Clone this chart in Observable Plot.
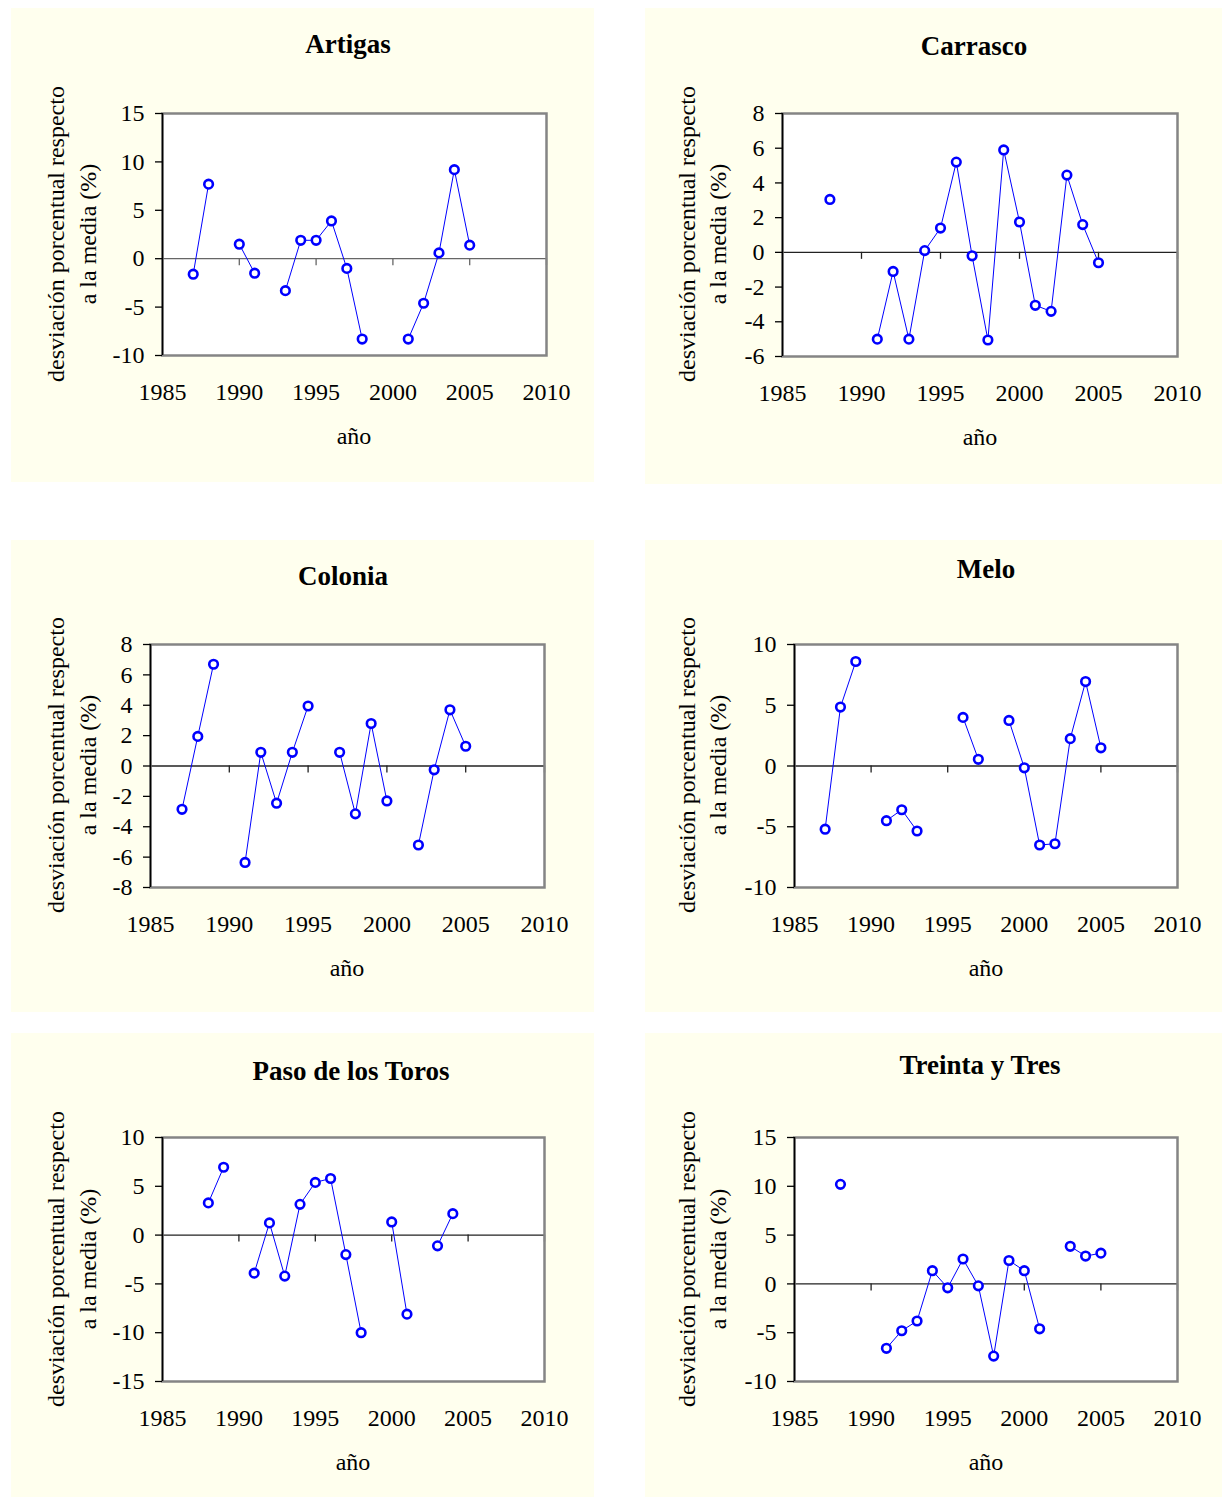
<!DOCTYPE html>
<html>
<head>
<meta charset="utf-8">
<script src="https://cdn.jsdelivr.net/npm/d3@7"></script>
<script src="https://cdn.jsdelivr.net/npm/@observablehq/plot@0.6"></script>
<style>
  html, body { margin: 0; padding: 0; background: #ffffff; }
  #page { position: relative; width: 1226px; height: 1499px; font-family: "Liberation Serif", "Times New Roman", serif; color: #000; }
  .panel { position: absolute; background: #FFFFEE; }
  .panel svg { position: absolute; left: 0; top: 0; }
  .txt { position: absolute; white-space: nowrap; transform: translate(-50%, -50%); line-height: 1; }
  .title { font-weight: bold; font-size: 27px; }
  .xlab { font-size: 24px; }
  .ylab { font-size: 24px; transform: translate(-50%, -50%) rotate(-90deg); }
</style>
</head>
<body>
<div id="page"></div>
<script>
// ---- data ----
const years = [1987, 1988, 1989, 1990, 1991, 1992, 1993, 1994, 1995, 1996, 1997, 1998, 1999, 2000, 2001, 2002, 2003, 2004, 2005];

const artigas = [-1.6, 7.7, null, 1.5, -1.5, null, -3.3, 1.9, 1.9, 3.9, -1.0, -8.3, null, null, -8.3, -4.6, 0.6, 9.2, 1.4];
const carrasco = [null, 3.05, null, null, -5.0, -1.1, -5.0, 0.1, 1.4, 5.2, -0.2, -5.05, 5.9, 1.75, -3.05, -3.4, 4.45, 1.6, -0.6];
const colonia = [-2.85, 1.95, 6.7, null, -6.35, 0.9, -2.45, 0.9, 3.95, null, 0.9, -3.15, 2.8, -2.3, null, -5.2, -0.25, 3.7, 1.3];
const melo = [-5.2, 4.85, 8.6, null, -4.5, -3.6, -5.35, null, null, 4.0, 0.55, null, 3.75, -0.15, -6.5, -6.4, 2.25, 6.95, 1.5];
const pasoDeLosToros = [null, 3.3, 6.95, null, -3.9, 1.25, -4.2, 3.15, 5.4, 5.8, -2.0, -10.0, null, 1.35, -8.1, null, -1.1, 2.2, null];
const treintaYTres = [null, 10.2, null, null, -6.6, -4.8, -3.8, 1.35, -0.4, 2.55, -0.2, -7.4, 2.4, 1.35, -4.6, null, 3.85, 2.85, 3.15];

const titles = ["Artigas", "Carrasco", "Colonia", "Melo", "Paso de los Toros", "Treinta y Tres"];
const xTicks = [1985, 1990, 1995, 2000, 2005, 2010];
const yTicksArtigas = [-10, -5, 0, 5, 10, 15];
const yTicksCarrasco = [-6, -4, -2, 0, 2, 4, 6, 8];
const yTicksColonia = [-8, -6, -4, -2, 0, 2, 4, 6, 8];
const yTicksMelo = [-10, -5, 0, 5, 10];
const yTicksPaso = [-15, -10, -5, 0, 5, 10];
const yTicksTreinta = [-10, -5, 0, 5, 10, 15];
const xTitle = "año";
const yTitle1 = "desviación porcentual respecto";
const yTitle2 = "a la media (%)";

// ---- layout (panel box, plot frame box, text positions) ----
const panels = [
  {values: artigas, ticks: yTicksArtigas, box: [11, 8, 594, 482], frame: [162, 113, 546, 355], title: [348, 44], xlab: [354, 436], ylab: [56, 88, 234], zero: "#666"},
  {values: carrasco, ticks: yTicksCarrasco, box: [645, 8, 1222, 484], frame: [782, 113, 1177, 356], title: [974, 46], xlab: [980, 437], ylab: [687, 718, 234], zero: "#222"},
  {values: colonia, ticks: yTicksColonia, box: [11, 540, 594, 1012], frame: [150, 644, 544, 887], title: [343, 576], xlab: [347, 968], ylab: [56, 88, 765], zero: "#222"},
  {values: melo, ticks: yTicksMelo, box: [645, 540, 1222, 1012], frame: [794, 644, 1177, 887], title: [986, 569], xlab: [986, 968], ylab: [687, 718, 765], zero: "#222"},
  {values: pasoDeLosToros, ticks: yTicksPaso, box: [11, 1033, 594, 1497], frame: [162, 1137, 544, 1381], title: [351, 1071], xlab: [353, 1462], ylab: [56, 88, 1259], zero: "#222"},
  {values: treintaYTres, ticks: yTicksTreinta, box: [645, 1033, 1222, 1497], frame: [794, 1137, 1177, 1381], title: [980, 1065], xlab: [986, 1462], ylab: [687, 718, 1259], zero: "#222"}
];

const page = document.getElementById("page");
const fmt = d => String(d);

function addText(cls, text, x, y) {
  const d = document.createElement("div");
  d.className = "txt " + cls;
  d.textContent = text;
  d.style.left = x + "px";
  d.style.top = y + "px";
  page.appendChild(d);
}

panels.forEach((p, k) => {
  const [bx0, by0, bx1, by1] = p.box;
  const [fx0, fy0, fx1, fy1] = p.frame;
  const W = bx1 - bx0, H = by1 - by0;
  const rows = years.map((yr, i) => ({year: yr, value: p.values[i]}));
  const pts = rows.filter(d => d.value !== null);
  const yDomain = [p.ticks[0], p.ticks[p.ticks.length - 1]];

  const div = document.createElement("div");
  div.className = "panel";
  div.style.left = bx0 + "px";
  div.style.top = by0 + "px";
  div.style.width = W + "px";
  div.style.height = H + "px";

  const chart = Plot.plot({
    width: W,
    height: H,
    marginLeft: fx0 - bx0,
    marginRight: bx1 - fx1,
    marginTop: fy0 - by0,
    marginBottom: by1 - fy1,
    style: {background: "transparent", fontFamily: "'Liberation Serif', 'Times New Roman', serif", fontSize: "24px", color: "#000", overflow: "visible"},
    x: {domain: [xTicks[0], xTicks[xTicks.length - 1]], label: null},
    y: {domain: yDomain, label: null},
    marks: [
      Plot.frame({fill: "white", stroke: null}),
      Plot.ruleY([0], {stroke: p.zero, strokeWidth: 1.3}),
      Plot.ruleX(xTicks.slice(1), {x: d => d, y1: 0, y2: 0, insetBottom: -7, stroke: p.zero, strokeWidth: 1.3}),
      Plot.line(rows, {x: "year", y: "value", stroke: "#0000FF", strokeWidth: 1}),
      Plot.dot(pts, {x: "year", y: "value", r: 4.3, stroke: "#0000FF", strokeWidth: 2.6, fill: "white"}),
      Plot.frame({stroke: "#858585", strokeWidth: 2.5}),
      Plot.ruleX([xTicks[0]], {stroke: "#000", strokeWidth: 1.5}),
      Plot.axisY(p.ticks, {tickSize: 7, tickPadding: 11, tickFormat: fmt, stroke: "#000", strokeWidth: 1.3, fill: "#000", label: null}),
      Plot.axisX(xTicks, {tickSize: 0, tickPadding: 27, tickFormat: fmt, fill: "#000", label: null})
    ]
  });
  div.appendChild(chart);
  page.appendChild(div);

  addText("title", titles[k], p.title[0], p.title[1]);
  addText("xlab", xTitle, p.xlab[0], p.xlab[1]);
  addText("ylab", yTitle1, p.ylab[0], p.ylab[2]);
  addText("ylab", yTitle2, p.ylab[1], p.ylab[2]);
});
</script>
</body>
</html>
